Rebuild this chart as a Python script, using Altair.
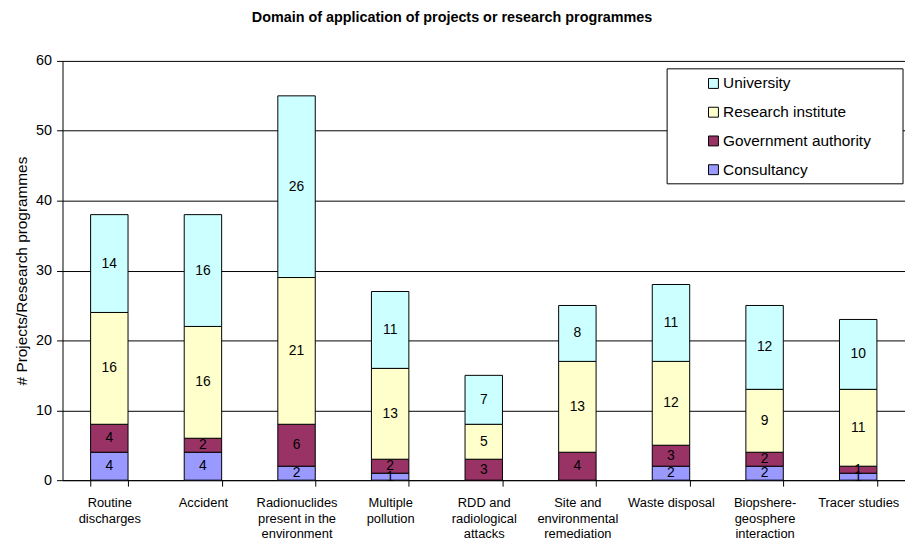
import altair as alt
import pandas as pd

categories = [
    "Routine|discharges",
    "Accident",
    "Radionuclides|present in the|environment",
    "Multiple|pollution",
    "RDD and|radiological|attacks",
    "Site and|environmental|remediation",
    "Waste disposal",
    "Biopshere-|geosphere|interaction",
    "Tracer studies",
]
consultancy = [4, 4, 2, 1, 0, 0, 2, 2, 1]
government = [4, 2, 6, 2, 3, 4, 3, 2, 1]
research = [16, 16, 21, 13, 5, 13, 12, 9, 11]
university = [14, 16, 26, 11, 7, 8, 11, 12, 10]

series = ["University", "Research institute", "Government authority", "Consultancy"]
colors = ["#CCFFFF", "#FFFFCC", "#993366", "#9999FF"]
stack_order = {"Consultancy": 0, "Government authority": 1, "Research institute": 2, "University": 3}
values_by_series = {
    "Consultancy": consultancy,
    "Government authority": government,
    "Research institute": research,
    "University": university,
}

rows = []
for s, vals in values_by_series.items():
    for c, v in zip(categories, vals):
        rows.append({"category": c, "series": s, "value": v, "order": stack_order[s]})
df = pd.DataFrame(rows)

FONT = "Liberation Sans"

base = (
    alt.Chart(df)
    .transform_filter("datum.value > 0")
    .transform_stack(
        stack="value",
        groupby=["category"],
        sort=[alt.SortField("order", order="ascending")],
        as_=["y0", "y1"],
    )
    .transform_calculate(mid="(datum.y0 + datum.y1) / 2")
)

x_enc = alt.X(
    "category:N",
    sort=categories,
    scale=alt.Scale(paddingInner=0.6, paddingOuter=0.3),
    axis=alt.Axis(
        title=None,
        labelAngle=0,
        labelExpr="split(datum.label, '|')",
        tickBand="extent",
        labelFont=FONT,
        labelFontSize=13,
        labelColor="black",
        labelLineHeight=15.5,
        labelPadding=11,
        labelBaseline="top",
        tickColor="black",
        tickSize=6,
        domainColor="black",
        grid=False,
    ),
)

bars = base.mark_bar(stroke="black", strokeWidth=1).encode(
    x=x_enc,
    y=alt.Y(
        "y0:Q",
        scale=alt.Scale(domain=[0, 60], nice=False),
        axis=alt.Axis(
            title="# Projects/Research programmes",
            titleFont=FONT,
            titleFontSize=15.5,
            titleFontWeight="normal",
            titleColor="black",
            titlePadding=6,
            values=[0, 10, 20, 30, 40, 50, 60],
            labelFont=FONT,
            labelFontSize=14.5,
            labelColor="black",
            labelPadding=5,
            tickColor="black",
            tickSize=6,
            domainColor="black",
            grid=True,
            gridColor="black",
            gridWidth=1,
        ),
    ),
    y2="y1:Q",
    color=alt.Color(
        "series:N",
        scale=alt.Scale(domain=series, range=colors),
        legend=alt.Legend(
            title=None,
            orient="none",
            legendX=649,
            legendY=15,
            symbolType="square",
            symbolSize=100,
            symbolStrokeColor="black",
            symbolStrokeWidth=1,
            labelFont=FONT,
            labelFontSize=15.5,
            labelColor="black",
            labelOffset=2,
            rowPadding=12,
            padding=0,
            labelLimit=300,
        ),
    ),
    order=alt.Order("order:Q"),
)

labels = base.mark_text(font=FONT, fontSize=14, color="black", baseline="middle").encode(
    x=alt.X("category:N", sort=categories),
    y=alt.Y("mid:Q"),
    text=alt.Text("value:Q"),
)

# legend frame (white box with black border behind the legend entries)
legend_frame = alt.Chart(pd.DataFrame({"k": [0]})).mark_rect(
    fill="white", stroke="black", strokeWidth=1
).encode(
    x=alt.value(610), x2=alt.value(848), y=alt.value(8), y2=alt.value(124)
)

chart = (
    alt.layer(bars, labels, legend_frame)
    .properties(
        width=850,
        height=423,
        autosize=alt.AutoSizeParams(type="none"),
        padding={"left": 55, "top": 51, "right": 0, "bottom": 60},
        title=alt.TitleParams(
            "Domain of application of projects or research programmes",
            font=FONT,
            fontSize=14.5,
            fontWeight="bold",
            color="black",
            anchor="middle",
            offset=28,
            dx=-32,
        ),
    )
    .configure_view(strokeWidth=0)
)

chart.save("out.html", embed_options={"renderer": "svg", "actions": False})
